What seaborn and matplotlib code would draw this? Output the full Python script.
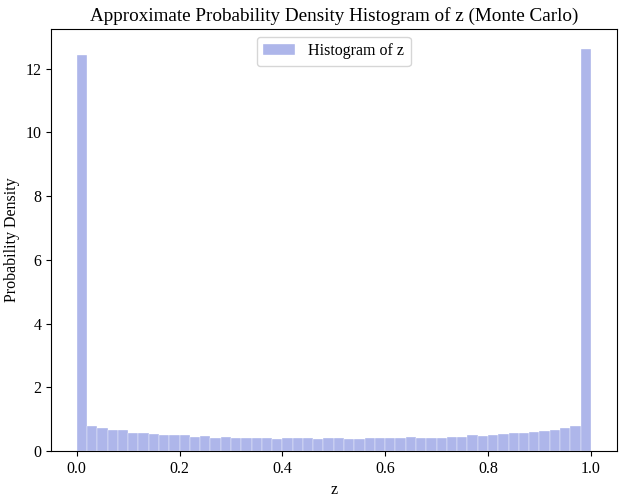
import numpy as np
import pandas as pd
import matplotlib
matplotlib.use("Agg")
import matplotlib.pyplot as plt
import seaborn as sns

# density per bin (50 bins of width 0.02 over [0, 1])
n_bins = 50
density = [
    12.42, 0.77, 0.72, 0.67, 0.65, 0.55, 0.56, 0.53, 0.49, 0.49,
    0.50, 0.45, 0.46, 0.42, 0.44, 0.42, 0.40, 0.40, 0.41, 0.39,
    0.40, 0.41, 0.41, 0.39, 0.40, 0.40, 0.38, 0.37, 0.40, 0.40,
    0.40, 0.42, 0.44, 0.41, 0.41, 0.41, 0.43, 0.45, 0.49, 0.46,
    0.49, 0.52, 0.56, 0.58, 0.59, 0.64, 0.67, 0.73, 0.80, 12.62,
]
bin_centers = (np.arange(n_bins) + 0.5) / n_bins

df = pd.DataFrame({"z": bin_centers, "density": density})

sns.set_style("ticks", {"axes.edgecolor": "black", "xtick.color": "black",
                        "ytick.color": "black", "text.color": "black",
                        "axes.labelcolor": "black"})
plt.rcParams["font.family"] = ["Liberation Serif", "DejaVu Serif"]
plt.rcParams["font.size"] = 11.5
plt.rcParams["xtick.labelsize"] = 11.5
plt.rcParams["ytick.labelsize"] = 11.5
plt.rcParams["axes.labelsize"] = 11.5

fig = plt.figure(figsize=(6.23, 4.98), dpi=100)
ax = fig.add_axes([0.0819, 0.0944, 0.9077, 0.8474])

sns.histplot(data=df, x="z", weights="density", bins=n_bins, binrange=(0, 1),
             stat="count", color="#5f6fd7", alpha=0.5, edgecolor="white",
             linewidth=0.25, label="Histogram of z", ax=ax)

ax.set_title("Approximate Probability Density Histogram of z (Monte Carlo)", fontsize=13.8)
ax.set_xlabel("z")
ax.set_ylabel("Probability Density")
ax.set_xlim(-0.05, 1.05)
ax.set_ylim(0, 13.25)
ax.legend(loc="upper center")

fig.savefig("out.png", dpi=100)
